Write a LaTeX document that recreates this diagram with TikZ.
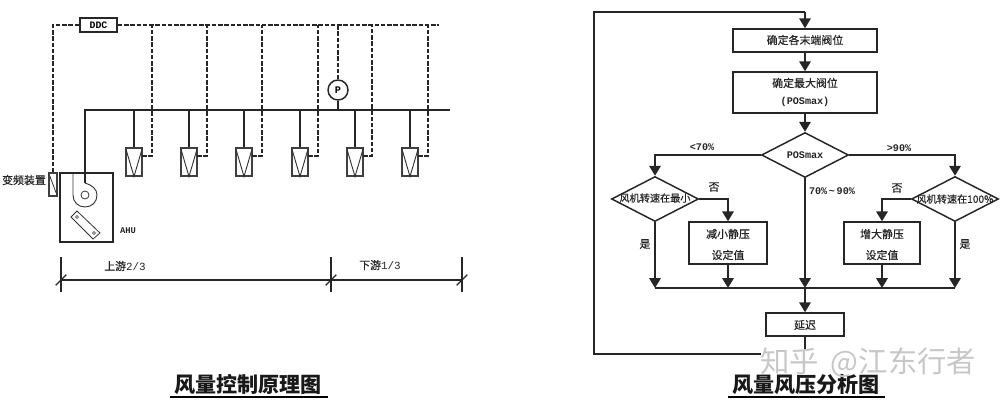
\documentclass[tikz,border=0pt]{standalone}
\usepackage{fontspec}
\setmainfont{Liberation Serif}
\setmonofont{Liberation Mono}
\newfontfamily\cjk[FakeBold=0.5]{Noto Sans CJK SC}
\newfontfamily\cjkt{Noto Sans CJK SC}
\usetikzlibrary{arrows.meta,shapes.geometric}
\tikzset{
  thin line/.style={line width=1.1pt,draw=black!85},
  sig/.style={line width=1.1pt,draw=black!85,dash pattern=on 3.4pt off 1.3pt},
  flow/.style={line width=1.2pt,draw=black!85,-{Triangle[length=7.4pt,width=8.6pt]}},
  plainflow/.style={line width=1.2pt,draw=black!85},
  pbox/.style={draw=black!85,line width=1.1pt,inner sep=0pt,fill=white,align=center},
  vav/.style={draw=black!75,line width=.8pt,inner sep=0pt,minimum width=12pt,minimum height=21pt},
  dia/.style={diamond,draw=black!85,line width=1.1pt,inner sep=0pt,fill=white,minimum width=65.25pt,minimum height=33.75pt,shape aspect=1.93},
  lab/.style={font=\cjk\fontsize{8.2pt}{10pt}\selectfont,text=black!85,inner sep=0pt},
  latin/.style={font=\ttfamily\bfseries\fontsize{7.6pt}{9pt}\selectfont,text=black!85,inner sep=0pt},
  ttl/.style={font=\cjkt\bfseries\fontsize{15.8pt}{18pt}\selectfont,text=black!90,inner sep=0pt},
  wm/.style={font=\cjkt\fontsize{22pt}{24pt}\selectfont,text=black!22,inner sep=0pt}
}
\begin{document}
\begin{tikzpicture}[x=0.75pt,y=-0.75pt]
\useasboundingbox (0,0) rectangle (1004,404);
% ---------- left diagram ----------
\node[pbox,minimum width=27.75pt,minimum height=10.5pt,font=\ttfamily\bfseries\fontsize{7.4pt}{9pt}\selectfont] (ddc) at (98.5,25) {DDC};
\coordinate (dl) at (53,25);
\coordinate (dr) at (439,25);
\node[draw=black!75,line width=.8pt,inner sep=0pt,minimum width=6pt,minimum height=17.25pt] (inv) at (53,184.5) {};
\draw[line width=.6pt,black!80] (inv.north west) -- (inv.south east);
\draw[sig] (ddc.west) -- (dl) -- (inv.north);
\draw[sig] (ddc.east) -- (dr);
\node[draw=black!85,line width=1.1pt,inner sep=0pt,minimum width=39.75pt,minimum height=51.75pt] (ahu) at (86.5,207.5) {};
% supply duct
\coordinate (sl) at (85,110);
\coordinate (sr) at (450,110);
\coordinate (fan) at (85,183);
\draw[thin line] (fan) -- (sl) -- (sr);
% fan scroll
\draw[line width=.7pt,black!80] (fan) .. controls (92,185) and (97,189) .. (97,195) .. controls (97,202) and (92,207) .. (85,207) .. controls (78,207) and (73,202) .. (73,195) -- (73,173);
\node[circle,draw=black!80,line width=.6pt,minimum size=6pt,inner sep=0pt] (hub) at (85,195) {};
% damper
\draw[line width=.6pt,black!80] (71,217) -- (77,211) -- (100,233) -- (93,239) -- cycle;
\node[circle,draw=black!80,line width=.4pt,minimum size=2.2pt,inner sep=0pt] (da) at (77,217) {};
\node[circle,draw=black!80,line width=.4pt,minimum size=2.2pt,inner sep=0pt] (db) at (94,233) {};
\node[latin,font=\ttfamily\bfseries\fontsize{6.6pt}{8pt}\selectfont] (ahut) at (128,231) {AHU};
\node[lab] (invt) at (24,180) {变频装置};
% terminal units
\foreach \i/\vx/\dx in {1/134/152,2/189/207,3/244/262,4/300/318,5/355/372,6/410/428}{
  \node[vav] (v\i) at (\vx,162) {};
  \draw[line width=.7pt,black!80] (v\i.north west) -- (v\i.south) -- (v\i.north east);
  \coordinate (s\i) at (\vx,110);
  \coordinate (t\i) at (\dx,25);
  \coordinate (o\i) at (\vx+8,156);
  \draw[thin line] (s\i) -- (v\i.north);
  \draw[sig] (o\i) -| (t\i);
}
% pressure sensor
\node[circle,draw=black!85,line width=1.1pt,minimum size=15pt,inner sep=0pt,fill=white,font=\ttfamily\bfseries\fontsize{7.6pt}{9pt}\selectfont] (p) at (338,90) {P};
\coordinate (pt) at (338,25);
\coordinate (pb) at (338,110);
\draw[sig] (pt) -- (p.north);
\draw[thin line] (p.south) -- (pb);
% dimension line
\coordinate (a0) at (61,280); \coordinate (a1) at (331,280); \coordinate (a2) at (462,280);
\draw[thin line] (a0) -- (a2);
\foreach \c in {a0,a1,a2}{
  \draw[line width=1pt,black!85] ([yshift=17pt]\c) -- ([yshift=-9pt]\c);
  \draw[line width=.9pt,black!85] ([shift={(-4pt,-4pt)}]\c) -- ([shift={(4pt,4pt)}]\c);
}
\node[lab] (up) at (125,266) {上游{\ttfamily 2/3}};
\node[lab] (down) at (380,265) {下游{\ttfamily 1/3}};
\node[ttl] (t1) at (248,384) {风量控制原理图};
\coordinate (u1a) at (170,397); \coordinate (u1b) at (328,397);
\draw[line width=1.3pt,black] (u1a) -- (u1b);
% ---------- right diagram ----------
\node[pbox,minimum width=108pt,minimum height=17.25pt] (b1) at (805,40.5) {};
\node[lab] (b1t) at (805,40) {确定各末端阀位};
\node[pbox,minimum width=108pt,minimum height=30.75pt] (b2) at (805,92.5) {};
\node[lab] (b2a) at (805,83) {确定最大阀位};
\node[latin] (b2b) at (805,102) {(POSmax)};
\node[dia] (d0) at (805,155) {};
\node[latin] (d0t) at (805,155) {POSmax};
\node[dia] (dL) at (655,199) {};
\node[lab,font=\cjk\fontsize{7.6pt}{9pt}\selectfont] (dLt) at (655,198) {风机转速在最小};
\node[dia] (dR) at (955,199) {};
\node[lab,font=\cjk\fontsize{7.6pt}{9pt}\selectfont] (dRt) at (955,199) {风机转速在100\%};
\node[pbox,minimum width=58.5pt,minimum height=31.5pt] (bL) at (728,243) {};
\node[lab] (bL1) at (728,234) {减小静压};
\node[lab] (bL2) at (728,255) {设定值};
\node[pbox,minimum width=57pt,minimum height=31.5pt] (bR) at (882,243) {};
\node[lab] (bR1) at (882,234) {增大静压};
\node[lab] (bR2) at (882,255) {设定值};
\node[pbox,minimum width=58.5pt,minimum height=17.25pt] (bD) at (805,324.5) {};
\node[lab] (bDt) at (805,325) {延迟};
% bus
\coordinate (busL) at (655,288);
\coordinate (busLb) at (728,288);
\coordinate (busC) at (805,288);
\coordinate (busRb) at (882,288);
\coordinate (busR) at (955,288);
\draw[plainflow] (busL) -- (busR);
% loop
\coordinate (lpA) at (805,354);
\coordinate (lpB) at (594,354);
\coordinate (lpC) at (594,12);
\coordinate (lpD) at (805,12);
\draw[plainflow] (bD.south) -- (lpA) -- (lpB) -- (lpC) -- (lpD);
\draw[flow] (lpD) -- (b1.north);
\draw[flow] (b1.south) -- (b2.north);
\draw[flow] (b2.south) -- (d0.north);
\draw[flow] (d0.west) -| (dL.north);
\draw[flow] (d0.east) -| (dR.north);
\draw[flow] (dL.east) -| (bL.north);
\draw[flow] (dR.west) -| (bR.north);
\draw[flow] (dL.south) -- (busL);
\draw[flow] (dR.south) -- (busR);
\draw[flow] (bL.south) -- (busLb);
\draw[flow] (bR.south) -- (busRb);
\draw[flow] (d0.south) -- (busC);
\draw[flow] (busC) -- (bD.north);
\node[latin] (l1) at (702,147) {<70\%};
\node[latin] (l2) at (899,148) {>90\%};
\node[latin] (l3) at (832,191) {70\%\,\textasciitilde\,90\%};
\node[lab] (n1) at (714,187) {否};
\node[lab] (n2) at (897,188) {否};
\node[lab] (y1) at (645,244) {是};
\node[lab] (y2) at (965,244) {是};
\node[ttl] (t2) at (806,385) {风量风压分析图};
\coordinate (u2a) at (728,397); \coordinate (u2b) at (885,397);
\draw[line width=1.3pt,black] (u2a) -- (u2b);
% watermark
\fill[white] (761,349) rectangle (812,359);
\node[wm,anchor=west] (w1) at (760,363) {知乎\hspace{9pt}@江东行者};
\end{tikzpicture}
\end{document}
